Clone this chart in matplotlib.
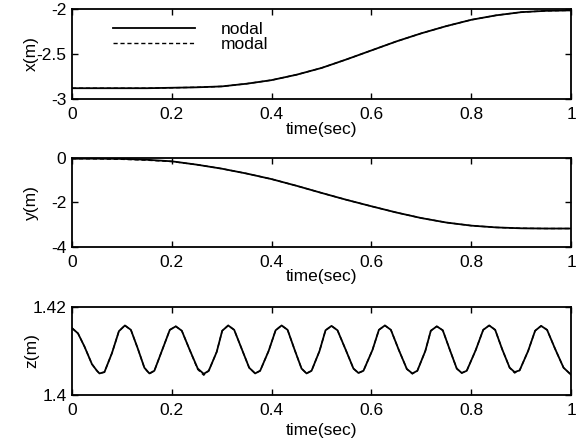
import numpy as np
import matplotlib
matplotlib.use('Agg')
import matplotlib.pyplot as plt

plt.rcParams['font.family'] = ['Liberation Sans', 'DejaVu Sans']
plt.rcParams['font.size'] = 12.5

# time grid for x / y traces (read every 0.05 s)
t_xy = [0.0, 0.05, 0.1, 0.15, 0.2, 0.25, 0.3, 0.35, 0.4, 0.45, 0.5,
        0.55, 0.6, 0.65, 0.7, 0.75, 0.8, 0.85, 0.9, 0.95, 1.0]

x_nodal = [-2.88, -2.88, -2.88, -2.88, -2.875, -2.87, -2.86, -2.83, -2.79, -2.73, -2.655,
           -2.56, -2.46, -2.36, -2.27, -2.19, -2.12, -2.07, -2.035, -2.02, -2.015]
x_modal = [-2.88, -2.88, -2.88, -2.88, -2.875, -2.87, -2.86, -2.83, -2.79, -2.73, -2.655,
           -2.56, -2.46, -2.36, -2.27, -2.19, -2.12, -2.07, -2.035, -2.02, -2.015]

y_nodal = [-0.03, -0.03, -0.04, -0.08, -0.15, -0.30, -0.48, -0.70, -0.95, -1.25, -1.57,
           -1.88, -2.17, -2.45, -2.70, -2.90, -3.04, -3.12, -3.16, -3.17, -3.17]
y_modal = [-0.03, -0.04, -0.06, -0.10, -0.16, -0.30, -0.48, -0.70, -0.95, -1.25, -1.57,
           -1.88, -2.17, -2.45, -2.70, -2.90, -3.04, -3.12, -3.16, -3.17, -3.17]

# z trace: hand-read points around each peak / trough
t_z = [0.000, 0.012, 0.025, 0.040, 0.050, 0.055, 0.065, 0.080, 0.094, 0.106,
       0.118, 0.132, 0.145, 0.155, 0.165, 0.180, 0.196, 0.208, 0.220, 0.236,
       0.252, 0.264, 0.274, 0.290, 0.301, 0.313, 0.325, 0.340, 0.355, 0.367,
       0.377, 0.394, 0.408, 0.420, 0.432, 0.446, 0.460, 0.470, 0.480, 0.496,
       0.508, 0.520, 0.532, 0.548, 0.564, 0.574, 0.584, 0.602, 0.615, 0.627,
       0.639, 0.655, 0.671, 0.682, 0.692, 0.708, 0.719, 0.731, 0.743, 0.757,
       0.771, 0.781, 0.791, 0.809, 0.824, 0.836, 0.848, 0.862, 0.877, 0.887,
       0.897, 0.914, 0.928, 0.940, 0.952, 0.968, 0.985, 1.000]
z_nodal = [1.4152, 1.4140, 1.4110, 1.4070, 1.4055, 1.4049, 1.4052, 1.4095, 1.4145, 1.4158,
           1.4148, 1.4105, 1.4062, 1.4049, 1.4055, 1.4100, 1.4148, 1.4156, 1.4146, 1.4102,
           1.4060, 1.4048, 1.4055, 1.4098, 1.4146, 1.4158, 1.4148, 1.4105, 1.4062, 1.4049,
           1.4055, 1.4100, 1.4147, 1.4158, 1.4148, 1.4103, 1.4060, 1.4049, 1.4055, 1.4100,
           1.4147, 1.4157, 1.4147, 1.4104, 1.4060, 1.4050, 1.4055, 1.4102, 1.4148, 1.4158,
           1.4148, 1.4102, 1.4059, 1.4049, 1.4055, 1.4100, 1.4146, 1.4156, 1.4147, 1.4103,
           1.4060, 1.4050, 1.4055, 1.4102, 1.4148, 1.4158, 1.4148, 1.4104, 1.4062, 1.4052,
           1.4056, 1.4100, 1.4146, 1.4157, 1.4148, 1.4105, 1.4062, 1.4046]
z_modal = [1.4152, 1.4140, 1.4110, 1.4070, 1.4055, 1.4049, 1.4052, 1.4095, 1.4145, 1.4158,
           1.4148, 1.4105, 1.4062, 1.4048, 1.4055, 1.4100, 1.4148, 1.4156, 1.4146, 1.4102,
           1.4058, 1.4045, 1.4055, 1.4098, 1.4146, 1.4158, 1.4148, 1.4105, 1.4062, 1.4049,
           1.4055, 1.4100, 1.4147, 1.4158, 1.4148, 1.4103, 1.4060, 1.4049, 1.4055, 1.4100,
           1.4147, 1.4157, 1.4147, 1.4104, 1.4060, 1.4050, 1.4055, 1.4102, 1.4148, 1.4158,
           1.4148, 1.4102, 1.4059, 1.4048, 1.4055, 1.4100, 1.4146, 1.4156, 1.4147, 1.4103,
           1.4060, 1.4050, 1.4055, 1.4102, 1.4148, 1.4158, 1.4148, 1.4104, 1.4062, 1.4050,
           1.4056, 1.4100, 1.4146, 1.4157, 1.4148, 1.4105, 1.4062, 1.4046]

x_ticks = [0, 0.2, 0.4, 0.6, 0.8, 1]
x_ticklabels = ['0', '0.2', '0.4', '0.6', '0.8', '1']

panels = [
    ('x(m)', t_xy, x_nodal, x_modal, (-3, -2), [-3, -2.5, -2], ['-3', '-2.5', '-2']),
    ('y(m)', t_xy, y_nodal, y_modal, (-4, 0), [-4, -2, 0], ['-4', '-2', '0']),
    ('z(m)', t_z, z_nodal, z_modal, (1.4, 1.42), [1.4, 1.42], ['1.4', '1.42']),
]

fig = plt.figure(figsize=(5.84, 4.44), dpi=100)
rects = [
    [0.1233, 0.777, 0.8545, 0.2027],
    [0.1233, 0.4437, 0.8545, 0.2005],
    [0.1233, 0.1104, 0.8545, 0.1982],
]
# top of each xlabel below its axes (axes fraction)
xlab_y = [-0.25, -0.25, -0.32]

for rect, xly, (ylab, t, nod, mod, ylim, yt, ytl) in zip(rects, xlab_y, panels):
    ax = fig.add_axes(rect)
    ax.plot(t, nod, color='black', linewidth=1.3, linestyle='-', label='nodal')
    ax.plot(t, mod, color='black', linewidth=1.0, linestyle=(0, (3, 2)), label='modal')
    ax.set_xlim(0, 1)
    ax.set_ylim(*ylim)
    ax.set_xticks(x_ticks)
    ax.set_xticklabels(x_ticklabels)
    ax.set_yticks(yt)
    ax.set_yticklabels(ytl)
    ax.tick_params(direction='in', length=4, width=1, top=True, right=True)
    ax.tick_params(axis='x', pad=6)
    ax.tick_params(axis='y', pad=4)
    ax.set_xlabel('time(sec)')
    ax.set_ylabel(ylab)
    ax.xaxis.set_label_coords(0.5, xly)
    ax.yaxis.set_label_coords(-0.066, 0.5)
    for sp in ax.spines.values():
        sp.set_linewidth(1.3)
    if ylab == 'x(m)':
        ax.legend(loc='upper left', bbox_to_anchor=(0.082, 0.855), frameon=False,
                  handlelength=4.7, handletextpad=1.5, labelspacing=0.0,
                  borderpad=0, borderaxespad=0, fontsize=12.5)

fig.savefig('out.png', dpi=100)
